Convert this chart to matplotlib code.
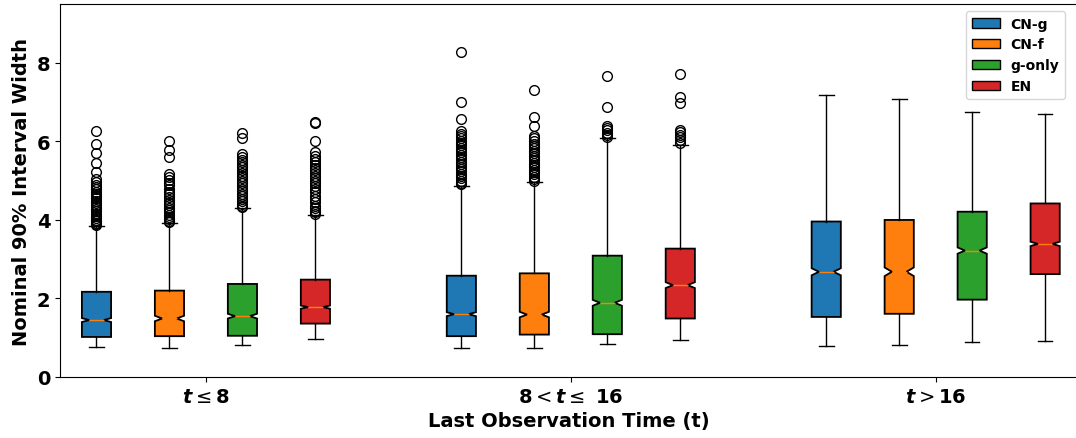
import numpy as np
import matplotlib.pyplot as plt
from matplotlib.patches import Patch

# box statistics, one list per method, one entry per time group
groups = [r'$\mathbfit{t}\leq\mathbf{8}$', r'$\mathbf{8}<\mathbfit{t}\leq\ \mathbf{16}$', r'$\mathbfit{t}>\mathbf{16}$']
methods = ['CN-g', 'CN-f', 'g-only', 'EN']
colors = ['#1f77b4', '#ff7f0e', '#2ca02c', '#d62728']

q1 = [[1.02, 1.04, 1.53], [1.04, 1.08, 1.61], [1.05, 1.09, 1.97], [1.36, 1.49, 2.62]]
med = [[1.45, 1.60, 2.68], [1.49, 1.59, 2.68], [1.55, 1.89, 3.22], [1.78, 2.34, 3.39]]
q3 = [[2.17, 2.58, 3.96], [2.20, 2.64, 4.00], [2.37, 3.09, 4.21], [2.48, 3.27, 4.42]]
whislo = [[0.76, 0.75, 0.80], [0.73, 0.73, 0.82], [0.82, 0.83, 0.90], [0.98, 0.93, 0.92]]
whishi = [[3.85, 4.87, 7.17], [3.92, 4.96, 7.07], [4.30, 6.09, 6.76], [4.13, 5.92, 6.71]]
notch = [[0.05, 0.05, 0.09], [0.07, 0.07, 0.11], [0.06, 0.075, 0.08], [0.04, 0.075, 0.055]]

fliers = [
    [[6.27, 5.94, 5.71, 5.45, 5.21, 5.04, 4.97, 4.90, 4.84, 4.78, 4.72, 4.66, 4.60, 4.55,
      4.49, 4.44, 4.38, 4.33, 4.27, 4.22, 4.16, 4.11, 4.06, 4.01, 3.97, 3.93, 3.89, 3.86],
     [8.27, 7.00, 6.57, 6.27, 6.20, 6.14, 6.08, 6.02, 5.96, 5.90, 5.84, 5.78, 5.72, 5.66,
      5.60, 5.54, 5.48, 5.42, 5.36, 5.30, 5.24, 5.18, 5.12, 5.06, 5.00, 4.95, 4.91],
     []],
    [[6.00, 5.77, 5.60, 5.17, 5.09, 5.02, 4.95, 4.88, 4.80, 4.72, 4.65, 4.58, 4.50, 4.44,
      4.38, 4.31, 4.25, 4.19, 4.13, 4.07, 4.02, 3.98, 3.94],
     [7.31, 6.63, 6.40, 6.15, 6.08, 6.01, 5.94, 5.88, 5.82, 5.76, 5.70, 5.64, 5.58, 5.52,
      5.46, 5.40, 5.34, 5.28, 5.22, 5.16, 5.10, 5.05, 5.00],
     []],
    [[6.22, 6.08, 5.68, 5.60, 5.53, 5.47, 5.40, 5.34, 5.26, 5.20, 5.13, 5.06, 5.00, 4.93,
      4.87, 4.80, 4.73, 4.66, 4.60, 4.54, 4.47, 4.41, 4.36, 4.32],
     [7.66, 6.88, 6.40, 6.34, 6.28, 6.22, 6.16, 6.12],
     []],
    [[6.50, 6.47, 6.00, 5.74, 5.64, 5.56, 5.47, 5.39, 5.32, 5.26, 5.19, 5.13, 5.06, 5.00,
      4.93, 4.87, 4.79, 4.70, 4.62, 4.54, 4.45, 4.36, 4.30, 4.24, 4.19, 4.15],
     [7.72, 7.13, 6.98, 6.30, 6.24, 6.17, 6.10, 6.03, 5.97],
     []],
]

fig = plt.figure(figsize=(10.76, 4.39), dpi=100)
ax = fig.add_axes([60/1076, 61/439, 1018/1076, 373/439])

offsets = [-1.5, -0.5, 0.5, 1.5]
for m in range(4):
    stats = []
    for g in range(3):
        stats.append(dict(med=med[m][g], q1=q1[m][g], q3=q3[m][g],
                          whislo=whislo[m][g], whishi=whishi[m][g],
                          cilo=med[m][g]-notch[m][g], cihi=med[m][g]+notch[m][g],
                          fliers=fliers[m][g]))
    pos = [5*g + offsets[m] for g in range(3)]
    bp = ax.bxp(stats, positions=pos, widths=0.4, patch_artist=True,
                shownotches=True, manage_ticks=False,
                flierprops=dict(marker='o', markerfacecolor='none',
                                markeredgecolor='k', markersize=7))
    for box in bp['boxes']:
        box.set_facecolor(colors[m])
        box.set_edgecolor('k')
        box.set_linewidth(1.3)

ax.set_xlim(-2.0, 11.95)
ax.set_ylim(0, 9.5)
ax.set_xticks([0, 5, 10])
ax.set_xticklabels(groups, fontsize=14)
ax.set_yticks([0, 2, 4, 6, 8])
ax.set_yticklabels(['0', '2', '4', '6', '8'], fontsize=14, fontweight='bold')
ax.set_xlabel('Last Observation Time (t)', fontsize=14, fontweight='bold')
ax.set_ylabel('Nominal 90% Interval Width', fontsize=14, fontweight='bold')

handles = [Patch(facecolor=c, edgecolor='k', label=l) for c, l in zip(colors, methods)]
ax.legend(handles=handles, loc='upper right', prop={'weight': 'bold', 'size': 10},
          bbox_to_anchor=(0.994, 1.0))

plt.savefig('out.png', dpi=100)
print('plot done')
